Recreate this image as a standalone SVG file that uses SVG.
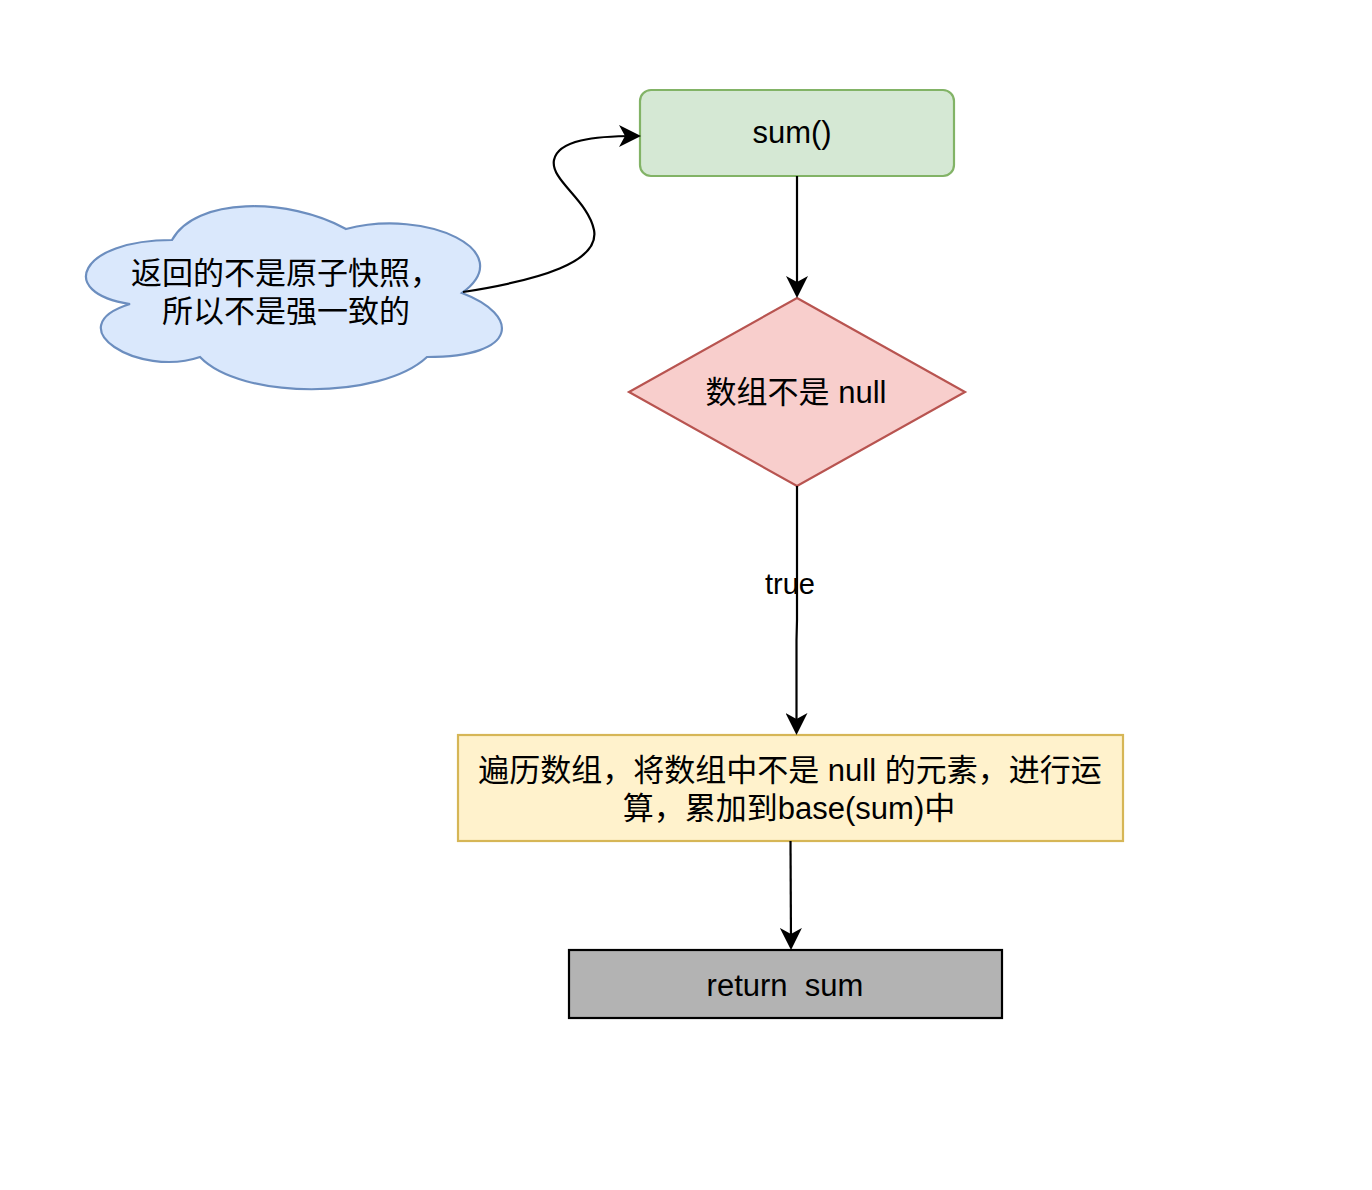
<svg xmlns="http://www.w3.org/2000/svg" width="1372" height="1190" viewBox="0 0 1372 1190">
<style>
  text { font-family: "Liberation Sans", "Noto Sans CJK SC", sans-serif; font-size: 31px; fill: #000; text-anchor: middle; white-space: pre; }
  .edge { fill: none; stroke: #000; stroke-width: 2.2; }
  .lbl { font-size: 29px; }
</style>
<defs>
  <marker id="arr" markerUnits="userSpaceOnUse" viewBox="0 0 22 22" refX="16" refY="11" markerWidth="22" markerHeight="22" orient="auto">
    <path d="M22,11 L0,0 L6,11 L0,22 Z" fill="#000"/>
  </marker>
</defs>
<rect width="1372" height="1190" fill="#fff"/>
<g id="cloud">
  <path d="M172,240 C79,240 56,293 130,304 C56,327 139,378 200,357 C241,400 381,400 427,357 C520,357 520,315 462,293 C520,251 427,208 346,229 C288,197 195,197 172,240 Z" fill="#dae8fc" stroke="#6c8ebf" stroke-width="2.2"/>
  <text x="286" y="284">返回的不是原子快照，</text>
  <text x="286" y="322">所以不是强一致的</text>
</g>
<g id="sum">
  <rect x="640" y="90" width="314" height="86" rx="11" fill="#d5e8d4" stroke="#82b366" stroke-width="2.2"/>
  <text x="792" y="143">sum()</text>
</g>
<g id="check">
  <polygon points="797,298 965,392 797,486 629,392" fill="#f8cecc" stroke="#b85450" stroke-width="2.2"/>
  <text x="796" y="403">数组不是 null</text>
</g>
<g id="loop">
  <rect x="458" y="735" width="665" height="106" fill="#fff2cc" stroke="#d6b656" stroke-width="2.2"/>
  <text x="790" y="781">遍历数组，将数组中不是 null 的元素，进行运</text>
  <text x="789" y="819">算，累加到base(sum)中</text>
</g>
<g id="ret">
  <rect x="569" y="950" width="433" height="68" fill="#b3b3b3" stroke="#000" stroke-width="2.2"/>
  <text x="785" y="996">return  sum</text>
</g>
<g id="connectors">
  <path class="edge" d="M463,292 C540,280 600,262 594,230 C588,200 550,180 554,160 C558,140 595,136 635,136" marker-end="url(#arr)"/>
  <path class="edge" d="M797,176 L797,292" marker-end="url(#arr)"/>
  <path class="edge" d="M797,486 L797,620 L796.5,640 L796.5,729" marker-end="url(#arr)"/>
  <text class="lbl" x="790" y="594">true</text>
  <path class="edge" d="M790.5,841 L791,944" marker-end="url(#arr)"/>
</g>
</svg>
